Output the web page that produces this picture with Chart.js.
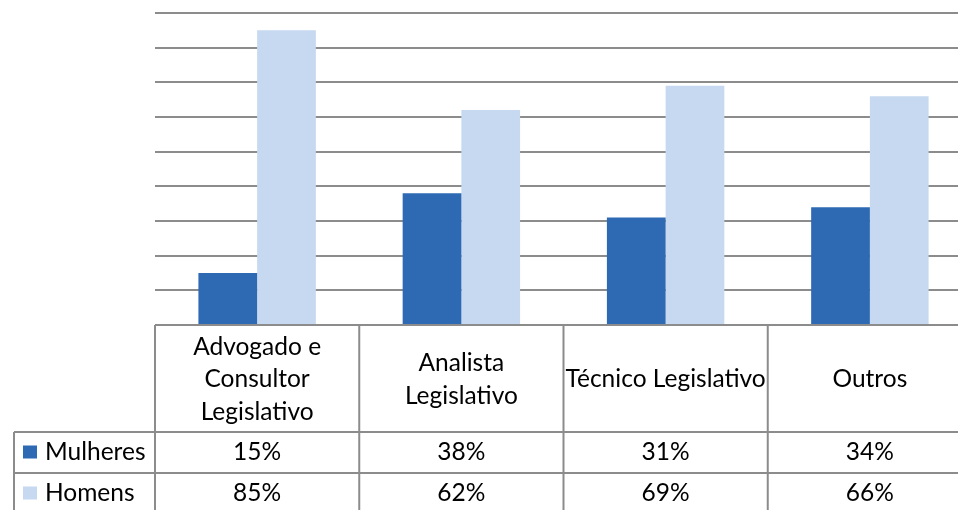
<!DOCTYPE html>
<html>
<head>
<meta charset="utf-8">
<title>Mulheres e Homens por cargo</title>
<script src="https://cdn.jsdelivr.net/npm/chart.js@4/dist/chart.umd.min.js"></script>
<style>
    html, body { margin: 0; padding: 0; background: #fff; overflow: hidden; }
    #wrap { position: relative; width: 973px; height: 510px; }
</style>
</head>
<body>
<div id="wrap">
    <canvas id="chart" width="973" height="510"></canvas>
</div>
<script>
// ============================================================================
// Data
// ============================================================================

const categories = [
    ['Advogado e', 'Consultor', 'Legislativo'],
    ['Analista', 'Legislativo'],
    ['Técnico Legislativo'],
    ['Outros']
];
const seriesNames = ['Mulheres', 'Homens'];
const mulheres = [15, 38, 31, 34];
const homens = [85, 62, 69, 66];
const yTicks = [0, 10, 20, 30, 40, 50, 60, 70, 80, 90];

const colors = ['#2e6ab3', '#c6d9f1'];
const lineColor = '#8c8c8c';
const fontFamily = 'Lato, "Open Sans", sans-serif';

// ============================================================================
// Data table plugin (drawn under the plot, like Excel)
// ============================================================================

const dataTablePlugin = {
    id: 'dataTable',
    afterDraw(chart) {
        const ctx = chart.ctx;
        const x = chart.scales.x;
        const area = chart.chartArea;
        const n = categories.length;
        const colW = (x.right - x.left) / n;
        const keyLeft = 14;
        const headerH = 107;
        const rowH = 41;
        const top = area.bottom;
        const rowTops = [top + headerH, top + headerH + rowH];
        const bottom = top + headerH + rowH * 2;
        const rows = [mulheres, homens];

        ctx.save();
        ctx.strokeStyle = lineColor;
        ctx.lineWidth = 2;

        // horizontal lines
        ctx.beginPath();
        ctx.moveTo(x.left, top);
        ctx.lineTo(x.right, top);
        rowTops.forEach(y => {
            ctx.moveTo(keyLeft, y);
            ctx.lineTo(x.right, y);
        });
        ctx.moveTo(keyLeft, bottom);
        ctx.lineTo(x.right, bottom);

        // vertical lines
        for (let i = 0; i <= n; i++) {
            const cx = x.left + i * colW;
            ctx.moveTo(cx, top);
            ctx.lineTo(cx, bottom);
        }
        ctx.moveTo(keyLeft, rowTops[0]);
        ctx.lineTo(keyLeft, bottom);
        ctx.stroke();

        // category labels
        ctx.fillStyle = '#000';
        ctx.font = '24.5px ' + fontFamily;
        ctx.textAlign = 'center';
        ctx.textBaseline = 'middle';
        const lineH = 32.5;
        categories.forEach((lines, i) => {
            const cx = x.getPixelForValue(i);
            const midY = (top + rowTops[0]) / 2 + 1;
            lines.forEach((line, j) => {
                const y = midY + (j - (lines.length - 1) / 2) * lineH;
                ctx.fillText(line, cx, y);
            });
        });

        // value rows with legend keys
        rows.forEach((values, r) => {
            const cy = rowTops[r] + rowH / 2;
            ctx.fillStyle = colors[r];
            ctx.fillRect(23, cy - 7, 14, 13);
            ctx.fillStyle = '#000';
            ctx.textAlign = 'left';
            ctx.fillText(seriesNames[r], 45, cy);
            ctx.textAlign = 'center';
            values.forEach((v, i) => {
                ctx.fillText(v + '%', x.getPixelForValue(i), cy);
            });
        });

        ctx.restore();
    }
};

// ============================================================================
// Chart
// ============================================================================

const ctx = document.getElementById('chart').getContext('2d');
new Chart(ctx, {
    type: 'bar',
    data: {
        labels: categories,
        datasets: [{
            label: seriesNames[0],
            data: mulheres,
            backgroundColor: colors[0],
            borderWidth: 0
        }, {
            label: seriesNames[1],
            data: homens,
            backgroundColor: colors[1],
            borderWidth: 0
        }]
    },
    options: {
        responsive: false,
        animation: false,
        devicePixelRatio: 1,
        datasets: {
            bar: {
                categoryPercentage: 0.575,
                barPercentage: 1
            }
        },
        layout: {
            padding: { left: 155, top: 13, right: 1, bottom: 185 }
        },
        plugins: {
            legend: { display: false },
            tooltip: { enabled: false }
        },
        scales: {
            x: {
                display: false
            },
            y: {
                min: yTicks[0],
                max: yTicks[yTicks.length - 1],
                afterBuildTicks(scale) {
                    scale.ticks = yTicks.map(v => ({ value: v }));
                },
                border: { display: false },
                grid: {
                    color: lineColor,
                    lineWidth: 2,
                    drawTicks: false
                },
                ticks: { display: false }
            }
        }
    },
    plugins: [dataTablePlugin]
});
</script>
</body>
</html>
